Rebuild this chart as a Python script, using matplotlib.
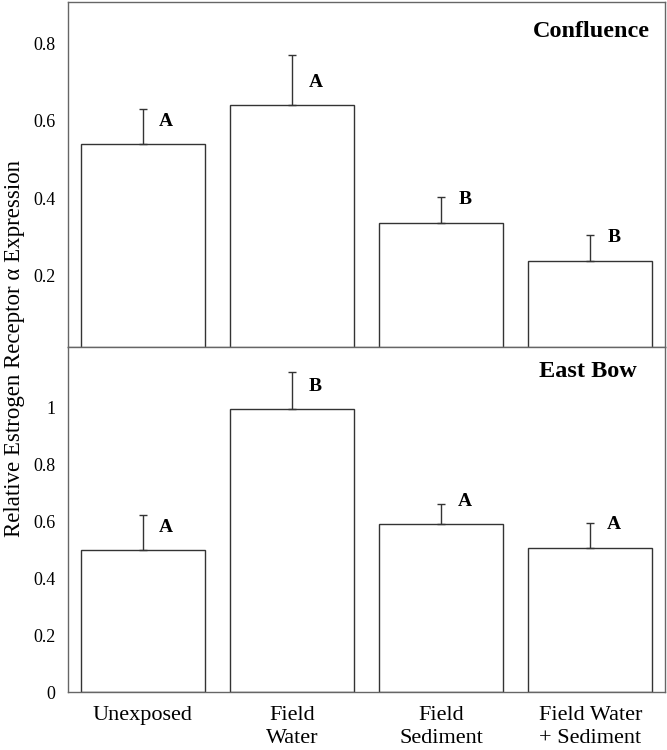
import numpy as np
import matplotlib
matplotlib.use("Agg")
import matplotlib.pyplot as plt

plt.rcParams['font.family'] = ['Liberation Serif', 'DejaVu Serif']

# data
groups = ["Unexposed", "Field\nWater", "Field\nSediment", "Field Water\n+ Sediment"]
confluence_mean = [0.54, 0.64, 0.337, 0.239]
confluence_err = [0.09, 0.13, 0.066, 0.067]
confluence_letters = ["A", "A", "B", "B"]
eastbow_mean = [0.498, 0.993, 0.588, 0.506]
eastbow_err = [0.122, 0.13, 0.071, 0.088]
eastbow_letters = ["A", "B", "A", "A"]

edge = "#333333"
x = np.arange(len(groups))

fig = plt.figure(figsize=(6.67, 7.5), dpi=100)
ax1 = fig.add_axes([0.102, 0.537, 0.895, 0.460])
ax2 = fig.add_axes([0.102, 0.0773, 0.895, 0.4597])

def panel(ax, mean, err, letters, title, tx, ty, ylim, ticks, ticklabels):
    ax.bar(x, mean, width=0.83, color="white", edgecolor=edge, linewidth=1.0, zorder=2)
    ax.errorbar(x, mean, yerr=[np.zeros(len(err)), err], fmt="none", ecolor=edge,
                elinewidth=1.0, capsize=3, capthick=1.0, zorder=3)
    # significance letters sit a fixed distance above each bar
    for i, (m, l) in enumerate(zip(mean, letters)):
        ax.annotate(l, (i, m), xytext=(17, 16.5), textcoords="offset points",
                    ha="center", va="center", fontsize=14, fontweight="bold")
    ax.text(tx, ty, title, transform=ax.transAxes, ha="right", va="center",
            fontsize=17.5, fontweight="bold")
    ax.set_xlim(-0.5, 3.5)
    ax.set_ylim(*ylim)
    ax.set_yticks(ticks)
    ax.set_yticklabels(ticklabels)
    ax.tick_params(axis="y", length=0, pad=9, labelsize=13)
    for s in ax.spines.values():
        s.set_color("#666666")
        s.set_linewidth(1.0)

panel(ax1, confluence_mean, confluence_err, confluence_letters, "Confluence", 0.975, 0.915,
      (0.015, 0.906), [0.2, 0.4, 0.6, 0.8], ["0.2", "0.4", "0.6", "0.8"])
ax1.set_xticks([])

panel(ax2, eastbow_mean, eastbow_err, eastbow_letters, "East Bow", 0.953, 0.93,
      (0, 1.21), [0, 0.2, 0.4, 0.6, 0.8, 1], ["0", "0.2", "0.4", "0.6", "0.8", "1"])
ax2.set_xticks(x)
ax2.set_xticklabels(groups, fontsize=16, linespacing=1.32)
ax2.tick_params(axis="x", length=0, pad=10)

fig.text(0.022, 0.535, "Relative Estrogen Receptor α Expression", rotation=90,
         ha="center", va="center", fontsize=16.5)

fig.savefig("out.png", dpi=100)
